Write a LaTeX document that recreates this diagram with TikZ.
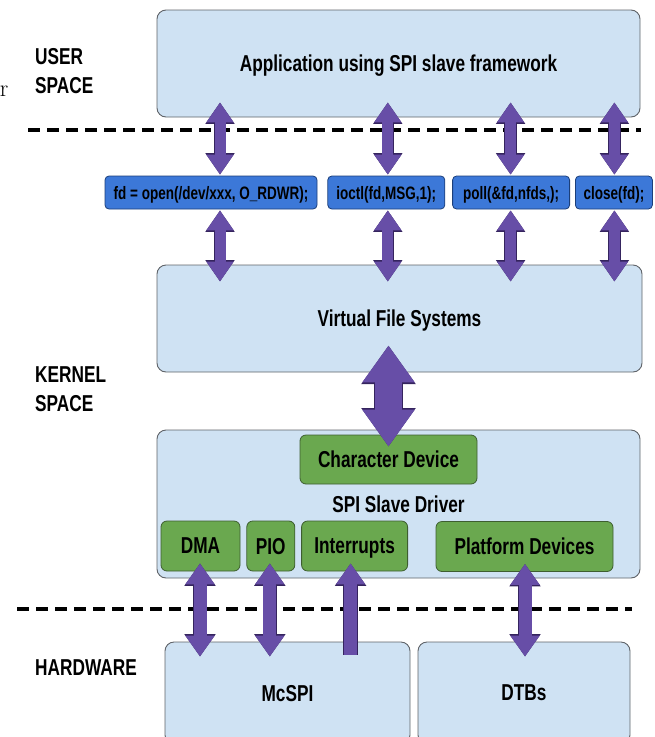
\documentclass[tikz,border=0pt]{standalone}
\usepackage{fontspec}
\setsansfont[FakeStretch=0.75]{Liberation Sans}
\usetikzlibrary{arrows.meta,positioning,calc}
\definecolor{layerfill}{HTML}{CFE2F3}
\definecolor{layerline}{HTML}{5F6368}
\definecolor{callfill}{HTML}{3C78D8}
\definecolor{callline}{HTML}{1C3F7A}
\definecolor{modfill}{HTML}{6AA84F}
\definecolor{modline}{HTML}{3E5E30}
\definecolor{pipefill}{HTML}{674EA7}
\definecolor{pipeline}{HTML}{35245E}
\newcommand{\layerfont}{\sffamily\bfseries\fontsize{23}{29}\selectfont}
\newcommand{\callfont}{\sffamily\bfseries\fontsize{18}{20}\selectfont}
%% two passes: dark rim first, purple body on top
\newcommand{\linkpipe}[4]{%
  \draw[pipe #1 edge, #2] #3 -- #4;
  \draw[pipe #1, #2] #3 -- #4;}

\begin{document}
\begin{tikzpicture}[x=1pt, y=-1pt,
  layer/.style={draw=layerline, line width=0.9pt, fill=layerfill,
                rounded corners=9pt, font=\layerfont, text depth=0pt, inner sep=0pt},
  call/.style={draw=callline, line width=0.8pt, fill=callfill,
               rounded corners=4pt, font=\callfont, text=black, text depth=0pt,
               minimum height=33pt, inner sep=0pt},
  module/.style={draw=modline, line width=0.8pt, fill=modfill,
                 rounded corners=6pt, font=\layerfont, text=black, text depth=0pt,
                 minimum height=50pt, inner sep=0pt},
  spacelabel/.style={font=\layerfont, align=left, anchor=west, inner sep=0pt},
  divider/.style={line width=4pt, dash pattern=on 12pt off 7pt},
  pipe s/.style={draw=pipefill, line width=11pt, >={Triangle[width=26pt,length=20pt]}},
  pipe s edge/.style={draw=pipeline, line width=12.4pt, >={Triangle[width=27.8pt,length=21.4pt]}},
  pipe l/.style={draw=pipefill, line width=13pt, >={Triangle[width=28pt,length=21pt]}},
  pipe l edge/.style={draw=pipeline, line width=14.4pt, >={Triangle[width=29.8pt,length=22.4pt]}},
  pipe b/.style={draw=pipefill, line width=27pt, >={Triangle[width=50pt,length=37pt]}},
  pipe b edge/.style={draw=pipeline, line width=28.4pt, >={Triangle[width=51.8pt,length=38.6pt]}},
]

  \useasboundingbox (0,0) rectangle (654,737);

  %% Layer boxes
  \node[layer, minimum width=483pt, minimum height=107pt] (app) at (398.5,63.5)
    {Application using SPI slave framework};
  \node[layer, minimum width=485pt, minimum height=107pt] (vfs) at (399.5,318.5)
    {Virtual File Systems};
  \node[layer, minimum width=483pt, minimum height=148pt] (driver) at (398.5,504)
    {SPI Slave Driver};
  \node[layer, minimum width=245pt, minimum height=102pt] (mcspi) at (287.5,693) {McSPI};
  \node[layer, minimum width=212pt, minimum height=102pt] (dtbs) at (524,693) {DTBs};

  %% System calls
  \node[call, minimum width=212pt] (open) at (211,192.5) {fd = open(/dev/xxx, O\_RDWR);};
  \node[call, minimum width=117pt, right=10pt of open] (ioctl) {ioctl(fd,MSG,1);};
  \node[call, minimum width=117pt, right=7pt of ioctl] (poll) {poll(\&fd,nfds,);};
  \node[call, minimum width=77pt, right=5pt of poll] (close) {close(fd);};

  %% Driver parts
  \node[module, minimum width=177pt, minimum height=49pt] (chardev) at (388.5,459.5)
    {Character Device};
  \node[module, minimum width=79pt] (dma) at (200.5,546) {DMA};
  \node[module, minimum width=48pt, right=6pt of dma] (pio) {PIO};
  \node[module, minimum width=106pt, right=6pt of pio] (irq) {Interrupts};
  \node[module, minimum width=177pt] (platform) at (524.5,546.5) {Platform Devices};

  %% Space labels
  \node[spacelabel] (userlbl) at (35,71.5) {USER\\SPACE};
  \node[spacelabel] (kernlbl) at (35,389) {KERNEL\\SPACE};
  \node[spacelabel] (hwlbl) at (35,667.5) {HARDWARE};
  \node[anchor=base east, inner sep=0pt, font=\rmfamily\fontsize{24}{24}\selectfont]
    (stray) at (8.5,96) {r};

  %% Boundaries
  \draw[divider] (28,130) -- (641,130);
  \draw[divider] (17,609) -- (632,609);

  %% App <-> calls <-> VFS
  \foreach \fn/\dx in {open/9,ioctl/1.5,poll/-0.5,close/0.5}{
    \linkpipe{s}{<->}{($(\fn.north |- app.south)+(\dx pt,15pt)$)}{([xshift=\dx pt,yshift=1pt]\fn.north)}
    \linkpipe{s}{<->}{([xshift=\dx pt,yshift=-1pt]\fn.south)}{($(\fn.south |- vfs.north)+(\dx pt,-17pt)$)}
  }

  %% VFS <-> character device
  \linkpipe{b}{<->}{($(chardev.north |- vfs.south)+(0pt,27pt)$)}{([yshift=-12pt]chardev.north)}

  %% Driver <-> hardware
  \foreach \md/\hw/\dx in {dma/mcspi/-0.5,pio/mcspi/-1,platform/dtbs/0.5}{
    \linkpipe{l}{<->}{([xshift=\dx pt,yshift=8pt]\md.south)}{($(\md.south |- \hw.north)+(\dx pt,-15pt)$)}
  }
  \linkpipe{l}{->}{($(irq.south |- mcspi.north)+(-4pt,-13pt)$)}{([xshift=-4pt,yshift=8pt]irq.south)}

\end{tikzpicture}
\end{document}
